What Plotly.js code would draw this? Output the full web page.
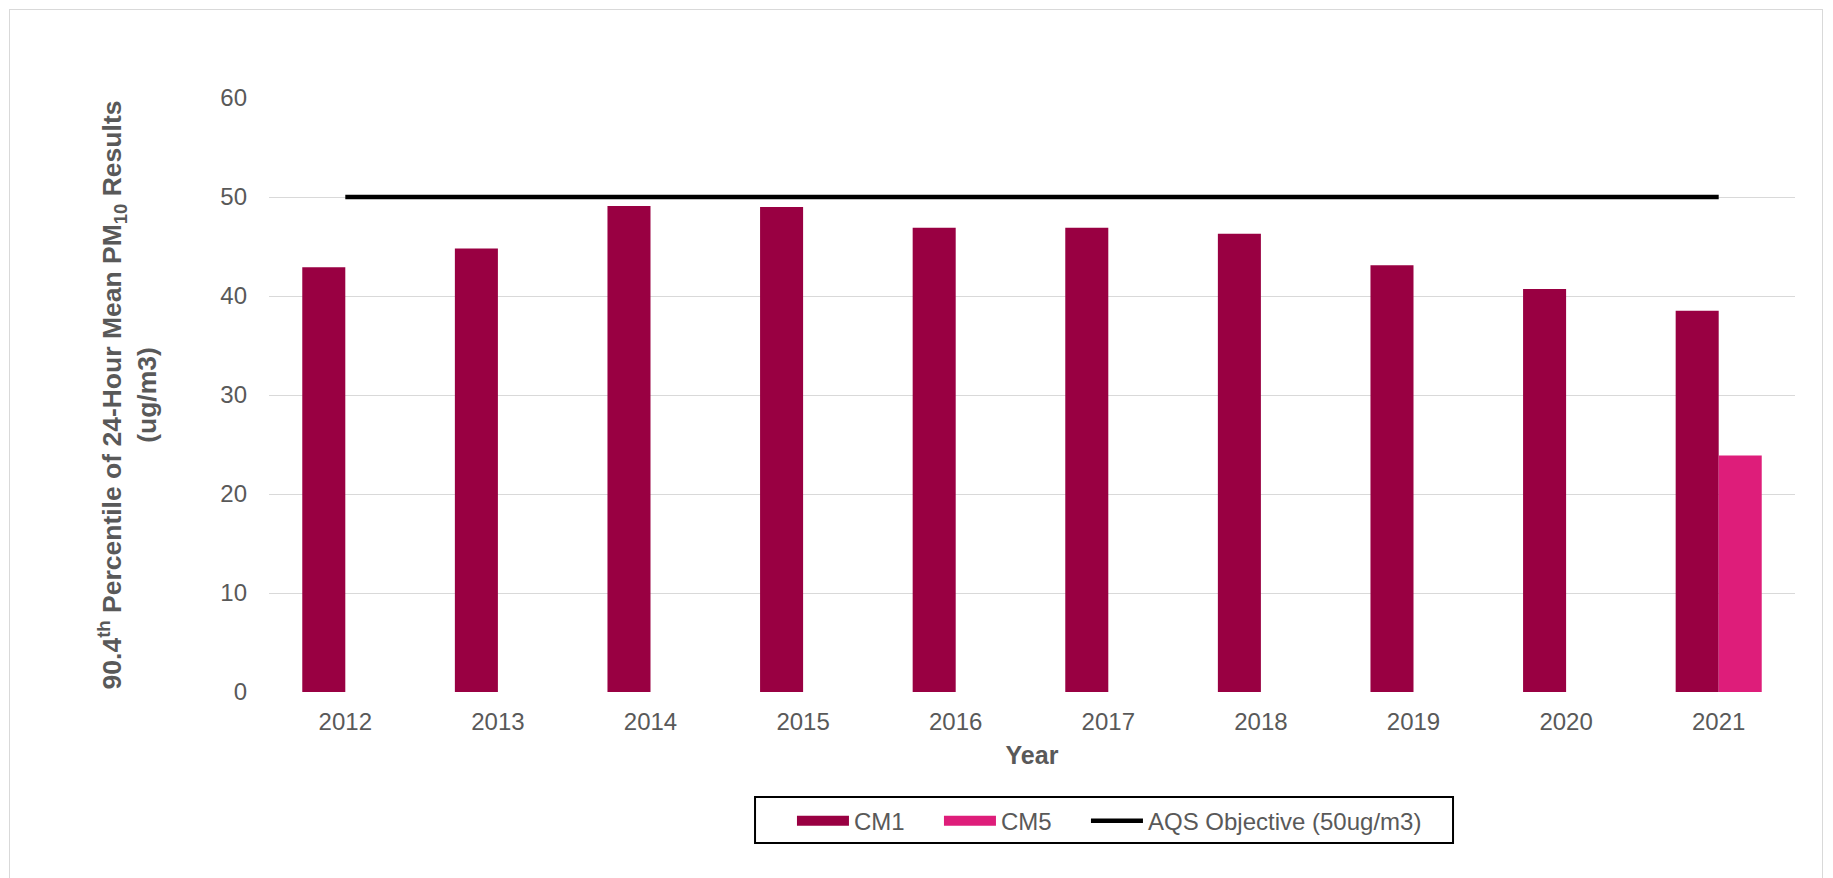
<!DOCTYPE html>
<html>
<head>
<meta charset="utf-8">
<script src="https://cdn.plot.ly/plotly-3.0.1.min.js"></script>
<style>
  html, body { margin: 0; padding: 0; background: #ffffff; overflow: hidden; }
  #wrap { position: relative; width: 1833px; height: 878px; }
  #frame { position: absolute; left: 9px; top: 9px; width: 1814px; height: 900px; border: 1.5px solid #d9d9d9; box-sizing: border-box; }
  #chart { position: absolute; left: 0; top: 0; width: 1833px; height: 878px; }
</style>
</head>
<body>
<div id="wrap">
  <div id="frame"></div>
  <div id="chart"></div>
</div>
<script>
const years = ['2012', '2013', '2014', '2015', '2016', '2017', '2018', '2019', '2020', '2021'];
const cm1Values = [42.9, 44.8, 49.1, 49.0, 46.9, 46.9, 46.3, 43.1, 40.7, 38.5];
const cm5Values = [null, null, null, null, null, null, null, null, null, 23.9];
const aqsObjective = [50, 50, 50, 50, 50, 50, 50, 50, 50, 50];
const seriesNames = ['CM1', 'CM5', 'AQS Objective (50ug/m3)'];
const seriesColors = ['#990042', '#DE1D7A', '#000000'];
const yTickValues = [0, 10, 20, 30, 40, 50, 60];

const FONT = 'Arial, "Liberation Sans", sans-serif';
const GREY = '#595959';

const traces = [
  {
    type: 'bar', name: seriesNames[0], x: years, y: cm1Values,
    marker: { color: seriesColors[0] }, legendgroup: 'cm1', showlegend: false
  },
  {
    type: 'bar', name: seriesNames[1], x: years, y: cm5Values,
    marker: { color: seriesColors[1] }, legendgroup: 'cm5', showlegend: false
  },
  // legend keys for the bar series (wide rectangular swatches, as in the reference)
  {
    type: 'scatter', mode: 'lines', name: seriesNames[0], x: [null], y: [null],
    line: { color: seriesColors[0], width: 13 }, legendgroup: 'cm1', hoverinfo: 'skip',
    legendwidth: 80
  },
  {
    type: 'scatter', mode: 'lines', name: seriesNames[1], x: [null], y: [null],
    line: { color: seriesColors[1], width: 13 }, legendgroup: 'cm5', hoverinfo: 'skip',
    legendwidth: 80
  },
  {
    type: 'scatter', mode: 'lines', name: seriesNames[2], x: years, y: aqsObjective,
    line: { color: seriesColors[2], width: 4.5, shape: 'linear' }
  }
];

const layout = {
  width: 1833, height: 878,
  paper_bgcolor: 'rgba(0,0,0,0)',
  plot_bgcolor: 'rgba(0,0,0,0)',
  margin: { l: 269, r: 38, t: 98, b: 186 },
  font: { family: FONT, color: GREY, size: 24 },
  barmode: 'group',
  bargap: 0.436,
  bargroupgap: 0,
  showlegend: true,
  xaxis: {
    type: 'category',
    showgrid: false, zeroline: false, showline: false,
    ticks: '',
    ticklabelstandoff: 13,
    tickfont: { family: FONT, size: 24, color: GREY },
    title: { text: 'Year', font: { family: FONT, size: 25, color: GREY, weight: 'bold' }, standoff: 12 }
  },
  yaxis: {
    range: [0, 60],
    tickvals: yTickValues,
    showgrid: true, gridcolor: '#d9d9d9', gridwidth: 1.3,
    zeroline: false, showline: false,
    ticks: '',
    ticklabelstandoff: 21,
    tickfont: { family: FONT, size: 24, color: GREY },
    title: {
      text: '<b>90.4<sup>th</sup> Percentile of 24-Hour Mean PM<sub>10</sub> Results<br>(ug/m3)</b>',
      font: { family: FONT, size: 26.5, color: GREY },
      standoff: 56
    }
  },
  legend: {
    orientation: 'h',
    x: 0.3427, xanchor: 'left',
    y: -0.1795, yanchor: 'top',
    borderwidth: 0,
    bgcolor: 'rgba(0,0,0,0)',
    font: { family: FONT, size: 24, color: GREY },
    itemwidth: 52,
    traceorder: 'normal'
  },
  // legend frame (black box around the legend, as in the reference)
  shapes: [{
    type: 'rect', xref: 'paper', yref: 'paper',
    x0: 0.3185, x1: 0.7759, y0: -0.1768, y1: -0.2542,
    line: { color: '#000000', width: 2 }, fillcolor: 'rgba(0,0,0,0)', layer: 'above'
  }]
};

Plotly.newPlot('chart', traces, layout, { displayModeBar: false, responsive: false });
</script>
</body>
</html>
